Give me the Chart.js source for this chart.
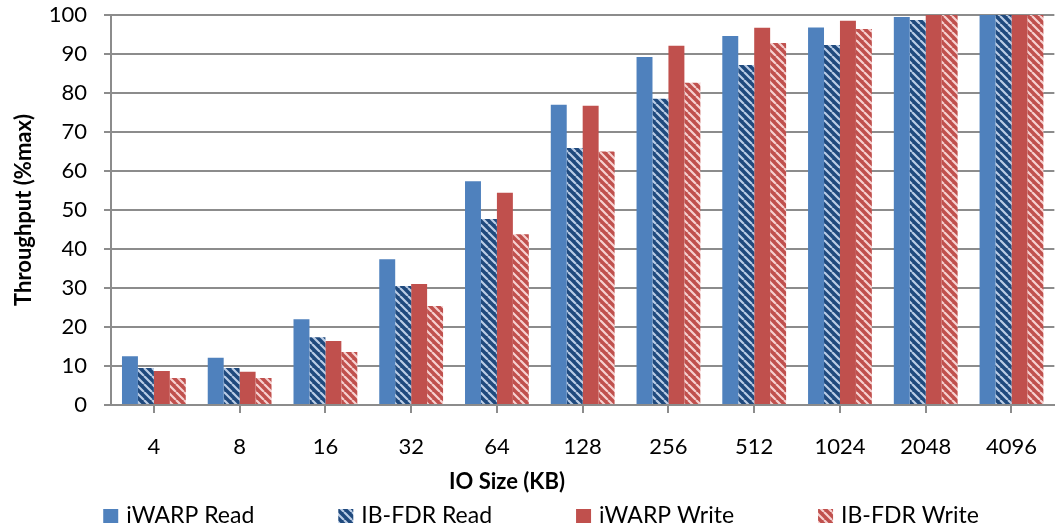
<!DOCTYPE html>
<html>
<head>
<meta charset="utf-8">
<script src="https://cdn.jsdelivr.net/npm/chart.js@4/dist/chart.umd.min.js"></script>
<style>
  html, body { margin: 0; padding: 0; background: #fff; }
  #wrap { width: 1058px; height: 529px; }
</style>
</head>
<body>
<div id="wrap"><canvas id="c" width="1058" height="529"></canvas></div>
<script>
// IO sizes (KB) on the category axis
const ioSizes = ['4', '8', '16', '32', '64', '128', '256', '512', '1024', '2048', '4096'];

// Throughput as percent of maximum, per IO size
const iwarpRead  = [12.5, 12.1, 22.0, 37.4, 57.4, 77.0, 89.2, 94.6, 96.8, 99.5, 100];
const ibfdrRead  = [9.5,  9.5,  17.4, 30.5, 47.7, 65.9, 78.5, 87.2, 92.3, 98.7, 100];
const iwarpWrite = [8.7,  8.5,  16.4, 31.0, 54.4, 76.7, 92.1, 96.7, 98.5, 100,  100];
const ibfdrWrite = [6.9,  6.9,  13.6, 25.4, 43.8, 65.0, 82.6, 92.8, 96.4, 100,  100];

const seriesNames = ['iWARP Read', 'IB-FDR Read', 'iWARP Write', 'IB-FDR Write'];
const yTickValues = [0, 10, 20, 30, 40, 50, 60, 70, 80, 90, 100];
const xTitle = 'IO Size (KB)';
const yTitle = 'Throughput (%max)';

const FONT = 'Lato';
const GRID = '#8c8c8c';

// Diagonal stripe fill ("\" direction) used by the IB-FDR series
function stripes(base, stripe) {
  const s = 8;
  const c = document.createElement('canvas');
  c.width = c.height = s;
  const g = c.getContext('2d');
  g.fillStyle = base;
  g.fillRect(0, 0, s, s);
  g.strokeStyle = stripe;
  g.lineWidth = 2.2;
  g.beginPath();
  for (const o of [-s, 0, s]) { g.moveTo(o, 0); g.lineTo(o + s, s); }
  g.stroke();
  return g.createPattern(c, 'repeat');
}

const fills = [
  '#4f81bd',
  stripes('#1f497d', 'rgba(215,228,248,0.85)'),
  '#c0504d',
  stripes('#c0504d', 'rgba(255,232,232,0.85)')
];

// Axis title and legend along the bottom edge
const bottomTexts = {
  id: 'bottomTexts',
  afterDraw(chart) {
    const ctx = chart.ctx;
    const area = chart.chartArea;
    ctx.save();
    ctx.fillStyle = '#000';
    ctx.textBaseline = 'middle';
    ctx.textAlign = 'center';
    ctx.font = 'bold 22px ' + FONT;
    ctx.fillText(xTitle, area.left + 396, 482);

    ctx.font = '23px ' + FONT;
    ctx.textAlign = 'left';
    const box = 15, boxGap = 8, itemGap = 84;
    const widths = chart.data.datasets.map(d => box + boxGap + ctx.measureText(d.label).width);
    const total = widths.reduce((a, b) => a + b, 0) + itemGap * (widths.length - 1);
    let x = 541 - total / 2;
    chart.data.datasets.forEach((d, i) => {
      ctx.fillStyle = d.backgroundColor;
      ctx.fillRect(x, 509, box, 14);
      ctx.fillStyle = '#000';
      ctx.fillText(d.label, x + box + boxGap, 516);
      x += widths[i] + itemGap;
    });
    ctx.restore();
  }
};

const series = [iwarpRead, ibfdrRead, iwarpWrite, ibfdrWrite];

new Chart(document.getElementById('c'), {
  type: 'bar',
  data: {
    labels: ioSizes,
    datasets: series.map((vals, i) => ({
      label: seriesNames[i],
      data: vals,
      backgroundColor: fills[i],
      borderWidth: 0,
      barPercentage: 1.0,
      categoryPercentage: 0.744
    }))
  },
  options: {
    responsive: false,
    devicePixelRatio: 1,
    animation: false,
    layout: { padding: { top: 0, left: 7, right: 0, bottom: 0 } },
    plugins: {
      legend: { display: false },
      tooltip: { enabled: false }
    },
    scales: {
      x: {
        afterFit(scale) { scale.height = 124; },
        grid: {
          display: true,
          drawOnChartArea: false,
          drawTicks: true,
          tickLength: 8,
          offset: false,
          color: GRID,
          lineWidth: 2
        },
        border: { display: true, color: GRID, width: 2 },
        ticks: {
          padding: 21,
          color: '#000',
          font: { family: FONT, size: 22 }
        }
      },
      y: {
        min: 0,
        max: 100,
        afterFit(scale) {
          scale.width = 104;
          scale.paddingTop = 15;
        },
        afterBuildTicks(scale) { scale.ticks = yTickValues.map(v => ({ value: v })); },
        grid: {
          color: GRID,
          lineWidth: 2,
          tickLength: 7,
          drawTicks: true
        },
        border: { display: true, color: GRID, width: 2 },
        ticks: {
          padding: 17,
          color: '#000',
          font: { family: FONT, size: 22 }
        },
        title: {
          display: true,
          text: yTitle,
          color: '#000',
          padding: { top: 4, bottom: 4 },
          font: { family: FONT, size: 22, weight: 'bold' }
        }
      }
    }
  },
  plugins: [bottomTexts]
});
</script>
</body>
</html>
